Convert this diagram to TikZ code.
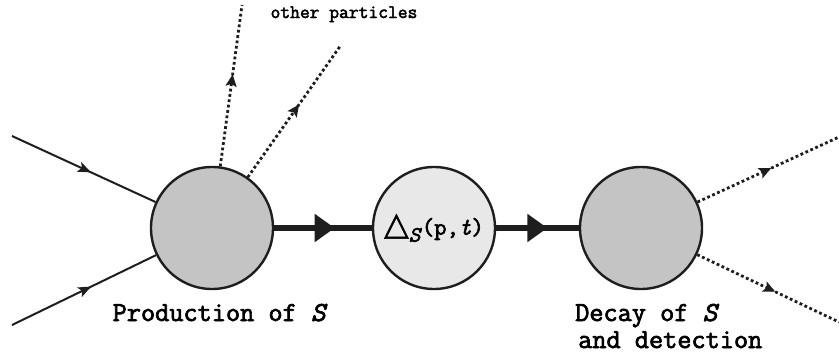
\documentclass[tikz,border=0pt]{standalone}
\usepackage{fontspec}
\setmonofont{Latin Modern Mono}[FakeBold=2.5]
\newfontfamily\symfont{DejaVu Sans}[FakeBold=1.5]
\usetikzlibrary{arrows.meta,decorations.markings}
\definecolor{blobgray}{HTML}{C4C4C4}
\definecolor{lightblob}{HTML}{E8E8E8}
\definecolor{ink}{HTML}{1E1E1E}
\tikzset{
  blob/.style={circle,draw=ink,line width=2.4pt,minimum size=122pt,inner sep=0pt},
  inline/.style={draw=ink,line width=2pt,postaction={decorate},
    decoration={markings,mark=at position #1 with {\arrow{Stealth[length=13pt,width=10.5pt,inset=3pt]}}}},
  outline/.style={draw=ink,line width=2.8pt,dash pattern=on 2.8pt off 2.6pt,postaction={decorate},
    decoration={markings,mark=at position #1 with {\arrow{Stealth[length=12pt,width=11pt,inset=2.5pt]}}}},
  propline/.style={draw=ink,line width=6pt,postaction={decorate},
    decoration={markings,mark=at position #1 with {\arrow{Triangle[length=20pt,width=27pt]}}}},
  lbl/.style={font=\ttfamily\fontsize{27.5}{30}\selectfont,inner sep=0pt},
}
\begin{document}
\begin{tikzpicture}[x=1pt,y=-1pt]
\useasboundingbox (0,0) rectangle (839,356);
\node[blob,fill=blobgray] (prod) at (212,228) {};
\node[blob,fill=lightblob] (prop) at (434,228) {\ttfamily\fontsize{24}{26}\selectfont{\symfont\fontsize{32}{32}\selectfont △}\raisebox{-7pt}{\fontsize{22}{22}\selectfont\textit{S}}(p,\textit{t})};
\node[blob,fill=blobgray] (dec) at (641,228) {};

\coordinate (in1) at (12,136);
\coordinate (in2) at (12,325);
\coordinate (o1) at (242,5);
\coordinate (o2) at (341,45);
\coordinate (d1) at (839,137);
\coordinate (d2) at (839,322);

\path[inline=0.55] (in1) -- (prod);
\path[inline=0.55] (in2) -- (prod);
\path[outline=0.57] (prod) -- (o1);
\path[outline=0.55] (prod) -- (o2);
\path[outline=0.52] (dec) -- (d1);
\path[outline=0.55] (dec) -- (d2);
\path[propline=0.62] (prod) -- (prop);
\path[propline=0.62] (prop) -- (dec);

\node[font=\ttfamily\fontsize{19}{22}\selectfont,inner sep=0pt,anchor=base] (other) at (344,18) {other particles};
\node[lbl,anchor=base] (prodlbl) at (220,321) {Production of \textit{S}};
\node[lbl,anchor=base west] (declbl) at (575,321) {Decay of \textit{S}};
\node[lbl,anchor=base west] (detlbl) at (578,348) {and detection};
\end{tikzpicture}
\end{document}
